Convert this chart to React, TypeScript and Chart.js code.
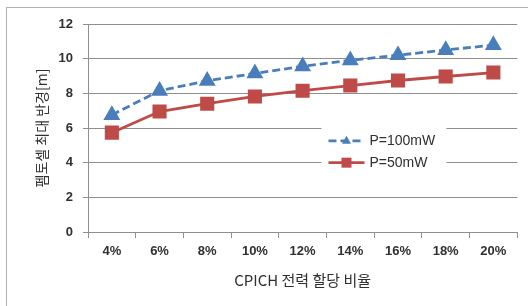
import React, { useEffect, useRef } from "react";
import { Chart, registerables } from "chart.js";

Chart.register(...registerables);

const categories = ["4%", "6%", "8%", "10%", "12%", "14%", "16%", "18%", "20%"];
const series100 = [6.75, 8.15, 8.72, 9.15, 9.56, 9.9, 10.2, 10.5, 10.78];
const series50 = [5.73, 6.95, 7.4, 7.82, 8.15, 8.45, 8.74, 8.97, 9.2];
const seriesNames = ["P=100mW", "P=50mW"];
const yTitle = "펨토셀 최대 반경[m]";
const xTitle = "CPICH 전력 할당 비율";

const BLUE = "#4A7EBB";
const RED = "#BE4B48";
const GRID = "#8f8f8f";
const TEXT = "#303030";

const legendPlugin = {
  id: "boxLegend",
  afterDatasetsDraw(chart: any) {
    const ctx = chart.ctx;
    const x = chart.scales.x;
    const y = chart.scales.y;
    const left = x.left + (x.right - x.left) * 0.544;
    const right = x.left + (x.right - x.left) * 0.835;
    const top = y.getPixelForValue(6) - 6;
    const bottom = y.getPixelForValue(4) + 9;
    ctx.save();
    ctx.fillStyle = "#ffffff";
    ctx.fillRect(left, top, right - left, bottom - top);
    const rows = [
      { v: 5.26, ds: chart.data.datasets[0] },
      { v: 4.0, ds: chart.data.datasets[1] },
    ];
    rows.forEach((r) => {
      const cy = y.getPixelForValue(r.v);
      const lx0 = left + 7;
      const lx1 = left + 43;
      ctx.strokeStyle = r.ds.borderColor;
      ctx.lineWidth = r.ds.borderWidth;
      ctx.setLineDash(r.ds.borderDash || []);
      ctx.beginPath();
      ctx.moveTo(lx0, cy);
      ctx.lineTo(lx1, cy);
      ctx.stroke();
      ctx.setLineDash([]);
      ctx.fillStyle = r.ds.pointBackgroundColor;
      ctx.strokeStyle = r.ds.pointBackgroundColor;
      ctx.lineWidth = 1;
      const midx = (lx0 + lx1) / 2;
      if (r.ds.pointStyle === "triangle") {
        ctx.beginPath();
        ctx.moveTo(midx, cy - 5);
        ctx.lineTo(midx + 4.5, cy + 3);
        ctx.lineTo(midx - 4.5, cy + 3);
        ctx.closePath();
        ctx.fill();
      } else {
        ctx.fillRect(midx - 5, cy - 5, 10, 10);
      }
      ctx.fillStyle = TEXT;
      ctx.font = "14px 'Liberation Sans', Arial, sans-serif";
      ctx.textBaseline = "middle";
      ctx.textAlign = "left";
      ctx.fillText(r.ds.label, lx1 + 5, cy);
    });
    ctx.restore();
  },
};

export default function App() {
  const ref = useRef<HTMLCanvasElement | null>(null);
  useEffect(() => {
    if (!ref.current) return;
    const chart = new Chart(ref.current, {
      type: "line",
      data: {
        labels: categories,
        datasets: [
          {
            label: seriesNames[0],
            data: series100,
            borderColor: BLUE,
            backgroundColor: BLUE,
            pointBackgroundColor: BLUE,
            pointBorderColor: BLUE,
            borderWidth: 2.8,
            borderDash: [8, 4],
            pointStyle: "triangle",
            pointRadius: 7,
            tension: 0,
          },
          {
            label: seriesNames[1],
            data: series50,
            borderColor: RED,
            backgroundColor: RED,
            pointBackgroundColor: RED,
            pointBorderColor: RED,
            borderWidth: 2.8,
            pointStyle: "rect",
            pointRadius: 8,
            tension: 0,
          },
        ],
      },
      options: {
        animation: false,
        responsive: false,
        maintainAspectRatio: false,
        layout: { padding: { top: 24, right: 10, bottom: 0, left: 0 } },
        plugins: {
          legend: { display: false },
          tooltip: { enabled: false },
        },
        scales: {
          x: {
            offset: true,
            grid: {
              offset: true,
              drawOnChartArea: false,
              drawTicks: true,
              tickLength: 6,
              color: GRID,
            },
            border: { color: GRID, width: 1 },
            ticks: {
              color: TEXT,
              font: { family: "'Liberation Sans', Arial, sans-serif", size: 13, weight: "bold" },
              padding: 6,
              maxRotation: 0,
            },
            title: {
              display: true,
              text: xTitle,
              color: TEXT,
              font: { family: "'Noto Sans CJK KR', sans-serif", size: 15 },
              padding: { top: 0, bottom: 17 },
            },
            afterFit(scale: any) {
              scale.height = 74;
            },
          },
          y: {
            min: 0,
            max: 12,
            grid: { color: GRID, tickLength: 5 },
            border: { color: GRID, width: 1 },
            ticks: {
              stepSize: 2,
              color: TEXT,
              font: { family: "'Liberation Sans', Arial, sans-serif", size: 13, weight: "bold" },
              padding: 10,
            },
            title: {
              display: true,
              text: yTitle,
              color: TEXT,
              font: { family: "'Noto Sans CJK KR', sans-serif", size: 14 },
              padding: { top: 33, bottom: 0 },
            },
            afterFit(scale: any) {
              scale.width = 88;
            },
          },
        },
      },
      plugins: [legendPlugin],
    });
    return () => chart.destroy();
  }, []);
  return (
    <div style={{ position: "absolute", left: 0, top: 0, width: 528, height: 306, overflow: "hidden", background: "#fff" }}>
      <div
        style={{
          position: "absolute",
          left: 6,
          top: 7,
          width: 540,
          height: 320,
          border: "1px solid #b0b0b0",
          boxSizing: "border-box",
        }}
      />
      <canvas ref={ref} width={528} height={306} style={{ position: "absolute", left: 0, top: 0, width: 528, height: 306 }} />
    </div>
  );
}
